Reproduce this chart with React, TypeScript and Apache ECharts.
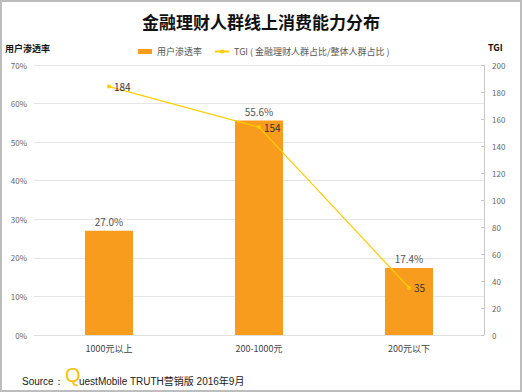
import React, { useEffect, useRef } from "react";
import * as echarts from "echarts";

const categories = ["1000元以上", "200-1000元", "200元以下"];
const penetration = [27.0, 55.6, 17.4];
const tgi = [184, 154, 35];

const FONT = "'Noto Sans CJK SC', 'Noto Sans', sans-serif";
const LINE_NAME = "TGI ( 金融理财人群占比/整体人群占比 )";

export default function App() {
  const ref = useRef<HTMLDivElement>(null);
  useEffect(() => {
    if (!ref.current) return;
    const chart = echarts.init(ref.current, undefined, { renderer: "svg" });
    chart.setOption({
      animation: false,
      backgroundColor: "#ffffff",
      textStyle: { fontFamily: FONT },
      title: {
        text: "金融理财人群线上消费能力分布",
        left: "center",
        top: 8,
        textStyle: { fontSize: 17, fontWeight: "bold", color: "#111", fontFamily: FONT },
      },
      legend: {
        left: 133,
        top: 42,
        itemGap: 12,
        itemWidth: 14,
        itemHeight: 5,
        textStyle: { fontSize: 9, color: "#555", fontFamily: FONT },
        data: [
          { name: "用户渗透率", icon: "rect" },
          { name: LINE_NAME },
        ],
      },
      grid: { left: 34, right: 38, top: 65, bottom: 57, containLabel: false },
      xAxis: {
        type: "category",
        data: categories,
        axisLine: { lineStyle: { color: "#e0e0e0" } },
        axisTick: { show: false },
        axisLabel: { fontSize: 9, color: "#444", margin: 9 },
      },
      yAxis: [
        {
          type: "value",
          min: 0,
          max: 70,
          interval: 10,
          axisLine: { show: false },
          axisTick: { show: false },
          axisLabel: { fontSize: 8, color: "#666", formatter: "{value}%", margin: 7 },
          splitLine: { lineStyle: { color: "#e6e6e6" } },
        },
        {
          type: "value",
          min: 0,
          max: 200,
          interval: 20,
          position: "right",
          axisLine: { show: true, lineStyle: { color: "#c8c8c8" } },
          axisTick: { show: true, inside: true, length: 3, lineStyle: { color: "#c8c8c8" } },
          axisLabel: { fontSize: 8, color: "#666", margin: 8 },
          splitLine: { show: false },
        },
      ],
      series: [
        {
          name: "用户渗透率",
          type: "bar",
          data: penetration,
          barWidth: 48,
          itemStyle: { color: "#F89C1E" },
          label: {
            show: true,
            position: "top",
            fontSize: 10,
            color: "#555",
            distance: 4,
            formatter: (p: any) => p.value.toFixed(1) + "%",
          },
        },
        {
          name: LINE_NAME,
          type: "line",
          yAxisIndex: 1,
          data: tgi,
          symbol: "circle",
          symbolSize: 4,
          lineStyle: { color: "#FFCC00", width: 1.2 },
          itemStyle: { color: "#FFCC00" },
          label: { show: true, position: "right", fontSize: 10, color: "#333", distance: 3 },
        },
      ],
      graphic: [
        {
          type: "rect",
          shape: { x: 1, y: 1, width: 520, height: 390 },
          style: { fill: "none", stroke: "#bdbdbd", lineWidth: 2 },
          silent: true,
        },
        {
          type: "text",
          left: 5,
          top: 44,
          style: { text: "用户渗透率", fontSize: 9, fontWeight: "bold", fill: "#111", fontFamily: FONT },
        },
        {
          type: "text",
          left: 488,
          top: 43,
          style: { text: "TGI", fontSize: 9, fontWeight: "bold", fill: "#111", fontFamily: FONT },
        },
        {
          type: "text",
          left: 22,
          top: 376,
          style: { text: "Source：", fontSize: 10, fill: "#222", fontFamily: "'Liberation Sans', Arial, sans-serif" },
        },
        {
          type: "text",
          left: 65,
          top: 365,
          style: { text: "Q", fontSize: 20, fill: "#F5C000", fontFamily: "'Liberation Sans', Arial, sans-serif" },
        },
        {
          type: "text",
          left: 79,
          top: 376,
          style: {
            text: "uestMobile TRUTH营销版 2016年9月",
            fontSize: 10,
            fill: "#222",
            fontFamily: "'Liberation Sans', 'Noto Sans CJK SC', sans-serif",
          },
        },
      ],
    });
    return () => chart.dispose();
  }, []);
  return (
    <div
      ref={ref}
      style={{ position: "fixed", left: 0, top: 0, width: 522, height: 392 }}
    />
  );
}
